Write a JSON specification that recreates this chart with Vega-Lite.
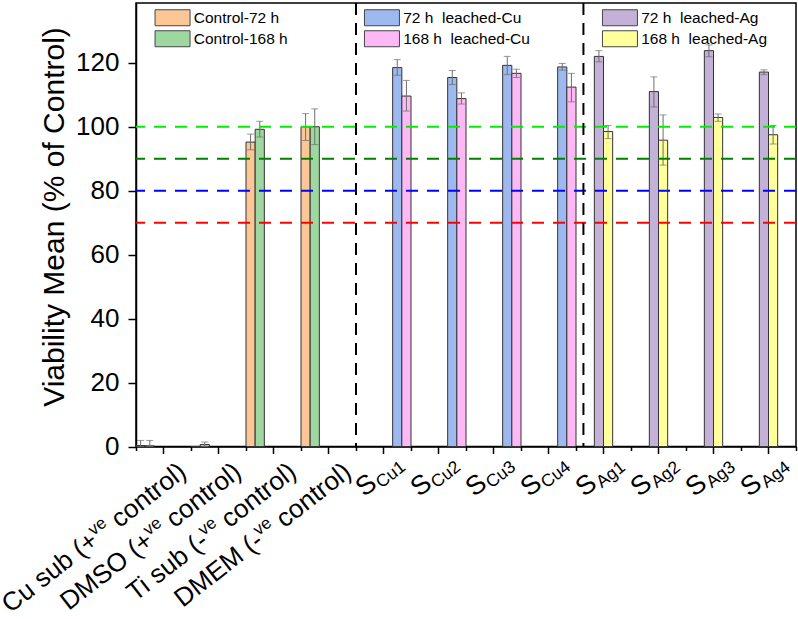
{
  "$schema": "https://vega.github.io/schema/vega-lite/v6.json",
  "width": 660,
  "height": 443.5,
  "autosize": {"type": "none"},
  "padding": {"left": 136, "top": 3, "right": 2, "bottom": 172.5},
  "background": "white",
  "config": {
    "view": {"stroke": "black", "strokeWidth": 1.5},
    "font": "Liberation Sans",
    "axis": {
      "domainColor": "black", "domainWidth": 1.5,
      "tickColor": "black", "tickWidth": 1.5,
      "labelColor": "black", "titleColor": "black",
      "labelFont": "Liberation Sans", "titleFont": "Liberation Sans",
      "titleFontWeight": "normal", "grid": false
    },
    "legend": {
      "orient": "none", "direction": "vertical", "title": null,
      "symbolType": "M-1,-1.333H4.833V1.333H-1Z", "symbolSize": 144,
      "symbolStrokeColor": "#444", "symbolStrokeWidth": 1, "symbolOpacity": 1,
      "labelOffset": 25, "labelFontSize": 15.5, "labelFont": "Liberation Sans",
      "labelColor": "black", "labelLimit": 300,
      "rowPadding": 0, "padding": 0
    }
  },
  "datasets": {
    "bars": [
      {"cat": "Cu sub", "series": "Control-72 h", "grp": "ctrl", "value": 0.3, "lo": 0, "hi": 1.9},
      {"cat": "Cu sub", "series": "Control-168 h", "grp": "ctrl", "value": 0.2, "lo": 0, "hi": 1.9},
      {"cat": "DMSO", "series": "Control-72 h", "grp": "ctrl", "value": 0},
      {"cat": "DMSO", "series": "Control-168 h", "grp": "ctrl", "value": 0.6, "lo": 0, "hi": 1.4},
      {"cat": "Ti sub", "series": "Control-72 h", "grp": "ctrl", "value": 95.2, "lo": 92.8, "hi": 97.7},
      {"cat": "Ti sub", "series": "Control-168 h", "grp": "ctrl", "value": 99.2, "lo": 96.8, "hi": 101.7},
      {"cat": "DMEM", "series": "Control-72 h", "grp": "ctrl", "value": 100, "lo": 95.7, "hi": 104.1},
      {"cat": "DMEM", "series": "Control-168 h", "grp": "ctrl", "value": 100, "lo": 94.4, "hi": 105.6},
      {"cat": "SCu1", "series": "72 h\u00a0 leached-Cu", "grp": "cu", "value": 118.5, "lo": 116.1, "hi": 121.0},
      {"cat": "SCu1", "series": "168 h\u00a0 leached-Cu", "grp": "cu", "value": 109.6, "lo": 104.9, "hi": 114.5},
      {"cat": "SCu2", "series": "72 h\u00a0 leached-Cu", "grp": "cu", "value": 115.4, "lo": 113.2, "hi": 117.6},
      {"cat": "SCu2", "series": "168 h\u00a0 leached-Cu", "grp": "cu", "value": 108.8, "lo": 107.1, "hi": 110.6},
      {"cat": "SCu3", "series": "72 h\u00a0 leached-Cu", "grp": "cu", "value": 119.2, "lo": 116.3, "hi": 122.0},
      {"cat": "SCu3", "series": "168 h\u00a0 leached-Cu", "grp": "cu", "value": 116.7, "lo": 115.4, "hi": 118.0},
      {"cat": "SCu4", "series": "72 h\u00a0 leached-Cu", "grp": "cu", "value": 118.7, "lo": 117.7, "hi": 119.8},
      {"cat": "SCu4", "series": "168 h\u00a0 leached-Cu", "grp": "cu", "value": 112.4, "lo": 107.8, "hi": 116.7},
      {"cat": "SAg1", "series": "72 h\u00a0 leached-Ag", "grp": "ag", "value": 122.0, "lo": 120.3, "hi": 123.8},
      {"cat": "SAg1", "series": "168 h\u00a0 leached-Ag", "grp": "ag", "value": 98.5, "lo": 96.3, "hi": 100.4},
      {"cat": "SAg2", "series": "72 h\u00a0 leached-Ag", "grp": "ag", "value": 111.0, "lo": 106.2, "hi": 115.6},
      {"cat": "SAg2", "series": "168 h\u00a0 leached-Ag", "grp": "ag", "value": 95.8, "lo": 88.0, "hi": 103.7},
      {"cat": "SAg3", "series": "72 h\u00a0 leached-Ag", "grp": "ag", "value": 123.8, "lo": 121.9, "hi": 125.6},
      {"cat": "SAg3", "series": "168 h\u00a0 leached-Ag", "grp": "ag", "value": 102.9, "lo": 101.7, "hi": 104.0},
      {"cat": "SAg4", "series": "72 h\u00a0 leached-Ag", "grp": "ag", "value": 117.1, "lo": 116.3, "hi": 117.8},
      {"cat": "SAg4", "series": "168 h\u00a0 leached-Ag", "grp": "ag", "value": 97.5, "lo": 94.6, "hi": 100.4}
    ],
    "levels": [{"level": 70}, {"level": 80}, {"level": 90}, {"level": 100}],
    "ctrlLabels": [
      {"cat": "Cu sub", "pre": "Cu sub (+"},
      {"cat": "DMSO", "pre": "DMSO (+"},
      {"cat": "Ti sub", "pre": "Ti sub (-"},
      {"cat": "DMEM", "pre": "DMEM (-"}
    ],
    "sLabels": [
      {"cat": "SCu1", "sub": "Cu1"}, {"cat": "SCu2", "sub": "Cu2"},
      {"cat": "SCu3", "sub": "Cu3"}, {"cat": "SCu4", "sub": "Cu4"},
      {"cat": "SAg1", "sub": "Ag1"}, {"cat": "SAg2", "sub": "Ag2"},
      {"cat": "SAg3", "sub": "Ag3"}, {"cat": "SAg4", "sub": "Ag4"}
    ],
    "separators": [{"at": 8}, {"at": 16.27}]
  },
  "layer": [
    {
      "layer": [
        {
          "data": {"name": "bars"},
          "transform": [{"filter": "datum.grp === 'ctrl'"}],
          "mark": {"type": "bar", "stroke": "#333", "strokeWidth": 1},
          "encoding": {
            "x": {"field": "cat", "type": "nominal", "title": null,
              "scale": {"domain": ["Cu sub", "DMSO", "Ti sub", "DMEM", "SCu1", "SCu2", "SCu3", "SCu4", "SAg1", "SAg2", "SAg3", "SAg4"], "paddingInner": 0, "paddingOuter": 0},
              "axis": {"labels": false, "tickSize": 7, "title": null}},
            "xOffset": {"field": "series", "type": "nominal",
              "scale": {"domain": ["Control-72 h", "Control-168 h", "72 h\u00a0 leached-Ag", "168 h\u00a0 leached-Ag", "72 h\u00a0 leached-Cu", "168 h\u00a0 leached-Cu"], "paddingInner": 0, "paddingOuter": 0}},
            "y": {"field": "value", "type": "quantitative", "title": "Viability Mean (% of Control)",
              "scale": {"domain": [0, 138.7], "nice": false, "zero": true},
              "axis": {
                "values": [0, 10, 20, 30, 40, 50, 60, 70, 80, 90, 100, 110, 120, 130],
                "labelExpr": "datum.value % 20 === 0 ? datum.label : ''",
                "tickSize": {"condition": {"test": "datum.value % 20 === 0", "value": 8}, "value": 4},
                "labelFontSize": 26, "labelPadding": 9,
                "titleFontSize": 30, "titlePadding": 6, "titleY": 213.5
              }},
            "color": {"field": "series", "type": "nominal",
              "scale": {"domain": ["Control-72 h", "Control-168 h"], "range": ["#FCC696", "#9ED8A0"]},
              "legend": {"legendX": 17.3, "legendY": 7}}
          }
        },
        {
          "data": {"name": "bars"},
          "transform": [{"filter": "datum.grp === 'cu'"}],
          "mark": {"type": "bar", "stroke": "#333", "strokeWidth": 1},
          "encoding": {
            "x": {"field": "cat", "type": "nominal", "title": null},
            "xOffset": {"field": "series", "type": "nominal"},
            "y": {"field": "value", "type": "quantitative", "title": "Viability Mean (% of Control)"},
            "color": {"field": "series", "type": "nominal",
              "scale": {"domain": ["72 h\u00a0 leached-Cu", "168 h\u00a0 leached-Cu"], "range": ["#9DB9F0", "#FDB9F5"]},
              "legend": {"legendX": 226.7, "legendY": 7}}
          }
        },
        {
          "data": {"name": "bars"},
          "transform": [{"filter": "datum.grp === 'ag'"}],
          "mark": {"type": "bar", "stroke": "#333", "strokeWidth": 1},
          "encoding": {
            "x": {"field": "cat", "type": "nominal", "title": null},
            "xOffset": {"field": "series", "type": "nominal"},
            "y": {"field": "value", "type": "quantitative", "title": "Viability Mean (% of Control)"},
            "color": {"field": "series", "type": "nominal",
              "scale": {"domain": ["72 h\u00a0 leached-Ag", "168 h\u00a0 leached-Ag"], "range": ["#C3B1D7", "#FFFF9C"]},
              "legend": {"legendX": 464.7, "legendY": 7}}
          }
        },
        {
          "data": {"name": "bars"},
          "mark": {"type": "rule", "color": "#6e6e6e", "strokeWidth": 1},
          "encoding": {
            "x": {"field": "cat", "type": "nominal", "title": null},
            "xOffset": {"field": "series", "type": "nominal"},
            "y": {"field": "lo", "type": "quantitative", "title": "Viability Mean (% of Control)"},
            "y2": {"field": "hi"}
          }
        },
        {
          "data": {"name": "bars"},
          "mark": {"type": "tick", "color": "#6e6e6e", "thickness": 1, "size": 7},
          "encoding": {
            "x": {"field": "cat", "type": "nominal", "title": null},
            "xOffset": {"field": "series", "type": "nominal"},
            "y": {"field": "hi", "type": "quantitative", "title": "Viability Mean (% of Control)"}
          }
        },
        {
          "data": {"name": "bars"},
          "mark": {"type": "tick", "color": "#6e6e6e", "thickness": 1, "size": 7},
          "encoding": {
            "x": {"field": "cat", "type": "nominal", "title": null},
            "xOffset": {"field": "series", "type": "nominal"},
            "y": {"field": "lo", "type": "quantitative", "title": "Viability Mean (% of Control)"}
          }
        },
        {
          "data": {"name": "levels"},
          "mark": {"type": "rule", "strokeDash": [12, 9], "strokeWidth": 2},
          "encoding": {
            "y": {"field": "level", "type": "quantitative", "title": "Viability Mean (% of Control)"},
            "color": {"field": "level", "type": "ordinal",
              "scale": {"domain": [70, 80, 90, 100], "range": ["#FF0000", "#0000FF", "#008000", "#00EE00"]},
              "legend": null}
          }
        },
        {
          "data": {"name": "ctrlLabels"},
          "mark": {"type": "text", "angle": -38, "align": "right", "baseline": "alphabetic", "fontSize": 26, "font": "Liberation Sans", "color": "black", "dx": -110.2, "dy": 37.5},
          "encoding": {
            "x": {"field": "cat", "type": "nominal", "title": null},
            "y": {"datum": 0},
            "text": {"field": "pre"}
          }
        },
        {
          "data": {"name": "ctrlLabels"},
          "mark": {"type": "text", "angle": -38, "align": "right", "baseline": "alphabetic", "fontSize": 17, "font": "Liberation Sans", "color": "black", "dx": -92.2, "dy": 27.5},
          "encoding": {
            "x": {"field": "cat", "type": "nominal", "title": null},
            "y": {"datum": 0},
            "text": {"value": "ve"}
          }
        },
        {
          "data": {"name": "ctrlLabels"},
          "mark": {"type": "text", "angle": -38, "align": "right", "baseline": "alphabetic", "fontSize": 26, "font": "Liberation Sans", "color": "black", "dx": 1.7, "dy": 37.5},
          "encoding": {
            "x": {"field": "cat", "type": "nominal", "title": null},
            "y": {"datum": 0},
            "text": {"value": "control)"}
          }
        },
        {
          "data": {"name": "sLabels"},
          "mark": {"type": "text", "angle": -38, "align": "center", "baseline": "middle", "fontSize": 27, "font": "Liberation Sans", "color": "black", "dx": -37.5, "dy": 20.3},
          "encoding": {
            "x": {"field": "cat", "type": "nominal", "title": null},
            "y": {"datum": 0},
            "text": {"value": "S"}
          }
        },
        {
          "data": {"name": "sLabels"},
          "mark": {"type": "text", "angle": -38, "align": "center", "baseline": "middle", "fontSize": 17.5, "font": "Liberation Sans", "color": "black", "dx": -11.6, "dy": 27.1},
          "encoding": {
            "x": {"field": "cat", "type": "nominal", "title": null},
            "y": {"datum": 0},
            "text": {"field": "sub"}
          }
        }
      ],
      "resolve": {"scale": {"color": "independent"}}
    },
    {
      "data": {"name": "separators"},
      "mark": {"type": "rule", "color": "black", "strokeDash": [12, 8], "strokeWidth": 2},
      "encoding": {
        "x": {"field": "at", "type": "quantitative", "title": null,
          "scale": {"domain": [0, 24], "nice": false, "zero": false},
          "axis": {"orient": "bottom", "values": [0, 2, 4, 6, 8, 10, 12, 14, 16, 18, 20, 22, 24], "tickSize": 4, "labels": false, "domain": false, "title": null}}
      }
    }
  ],
  "resolve": {"scale": {"x": "independent"}, "axis": {"x": "independent"}}
}
